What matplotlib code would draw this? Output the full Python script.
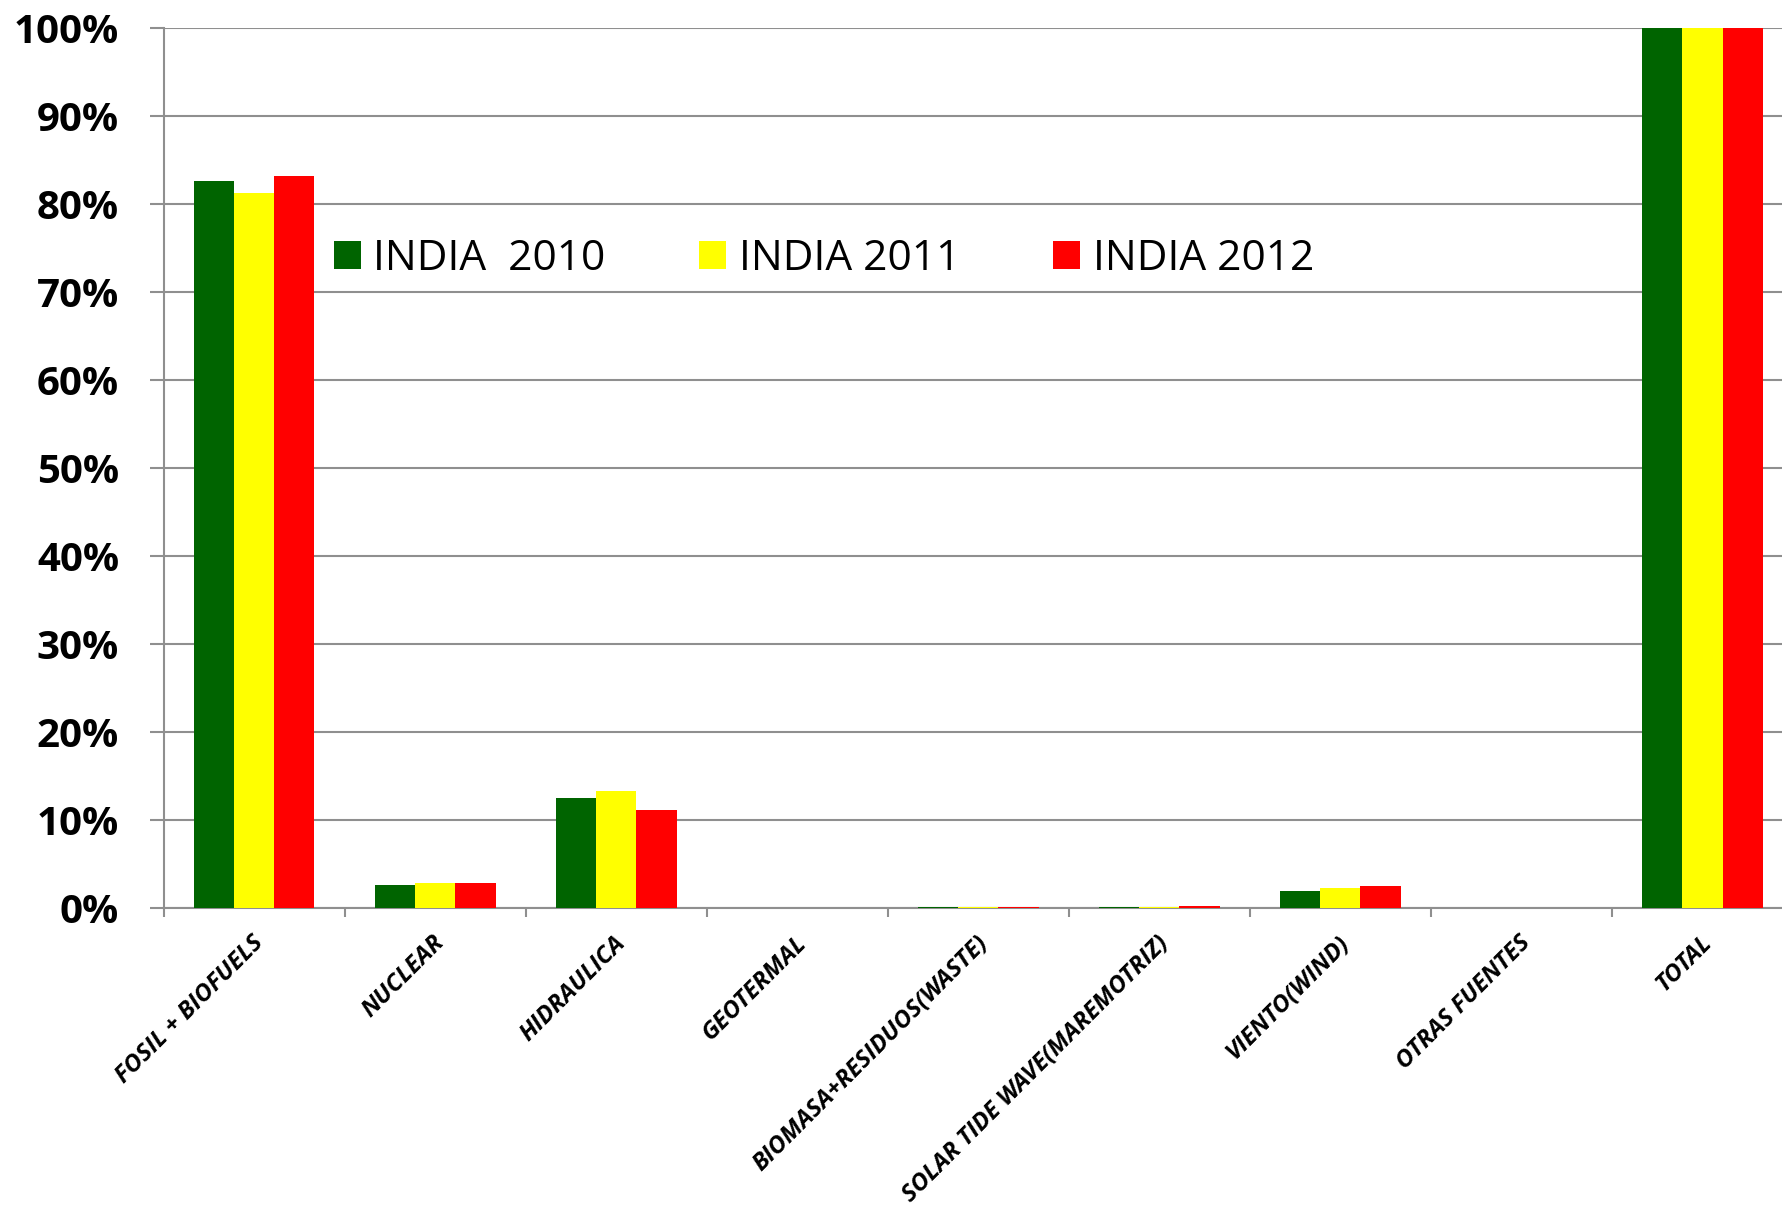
import numpy as np
import matplotlib
matplotlib.use("Agg")
import matplotlib.pyplot as plt
from matplotlib import transforms
from matplotlib.ticker import FuncFormatter, FixedLocator

categories = [
    "FOSIL + BIOFUELS", "NUCLEAR", "HIDRAULICA", "GEOTERMAL",
    "BIOMASA+RESIDUOS(WASTE)", "SOLAR TIDE WAVE(MAREMOTRIZ)",
    "VIENTO(WIND)", "OTRAS FUENTES", "TOTAL",
]
series_names = ["INDIA  2010", "INDIA 2011", "INDIA 2012"]
india_2010 = [0.826, 0.0258, 0.1243, 0.0, 0.0010, 0.0002, 0.0193, 0.0, 1.0]
india_2011 = [0.812, 0.0284, 0.1326, 0.0, 0.0010, 0.0006, 0.0224, 0.0, 1.0]
india_2012 = [0.831, 0.0276, 0.1107, 0.0, 0.0010, 0.0020, 0.0250, 0.0, 1.0]
colors = ["#006400", "#FFFF00", "#FF0000"]
y_ticks = [0.0, 0.1, 0.2, 0.3, 0.4, 0.5, 0.6, 0.7, 0.8, 0.9, 1.0]

FONT = ["Open Sans", "DejaVu Sans"]
GRID = "#8f8f8f"

fig = plt.figure(figsize=(17.83, 12.11), dpi=100)
ax = fig.add_axes([0.0917, 0.2506, 0.9139, 0.7265])

x = np.arange(len(categories))
bw = 0.2225
for k, (vals, c) in enumerate(zip([india_2010, india_2011, india_2012], colors)):
    ax.bar(x + (k - 1) * bw, vals, width=bw, color=c, label=series_names[k],
           zorder=3, linewidth=0)

ax.set_xlim(-0.5, len(categories) - 0.5)
ax.set_ylim(0, 1.0)

# y axis
ax.yaxis.set_major_locator(FixedLocator(y_ticks))
ax.yaxis.set_major_formatter(FuncFormatter(lambda v, p: f"{v * 100:.0f}%"))
ax.tick_params(axis="y", length=10, width=1.5, color=GRID, pad=22,
               labelsize=29)
for lab in ax.get_yticklabels():
    lab.set_fontfamily(FONT)
    lab.set_fontweight("bold")
ax.yaxis.grid(True, color=GRID, linewidth=1.5, zorder=0)
ax.set_axisbelow(True)

# x axis: ticks between categories
ax.set_xticks(np.arange(len(categories) + 1) - 0.5)
ax.set_xticklabels([])
ax.tick_params(axis="x", length=6.5, width=1.5, color=GRID)

for side in ["top", "right"]:
    ax.spines[side].set_visible(False)
for side in ["left", "bottom"]:
    ax.spines[side].set_color(GRID)
    ax.spines[side].set_linewidth(1.5)

# rotated category labels
base = transforms.blended_transform_factory(ax.transData, ax.transAxes)
off = transforms.ScaledTranslation(6 / 100, -32 / 100, fig.dpi_scale_trans)
for i, name in enumerate(categories):
    ax.text(i, 0, name, transform=base + off, rotation=45,
            rotation_mode="anchor", ha="right", va="center",
            fontsize=17.5, fontweight="bold", fontstyle="italic",
            family=FONT, clip_on=False)

leg = ax.legend(loc="upper left", bbox_to_anchor=(0.094, 0.7805), ncol=3,
                frameon=False, prop={"family": FONT, "size": 30.5},
                handlelength=0.64, handleheight=0.64, handletextpad=0.3,
                columnspacing=2.2, borderaxespad=0)

fig.savefig("out.png", dpi=100, facecolor="white")
